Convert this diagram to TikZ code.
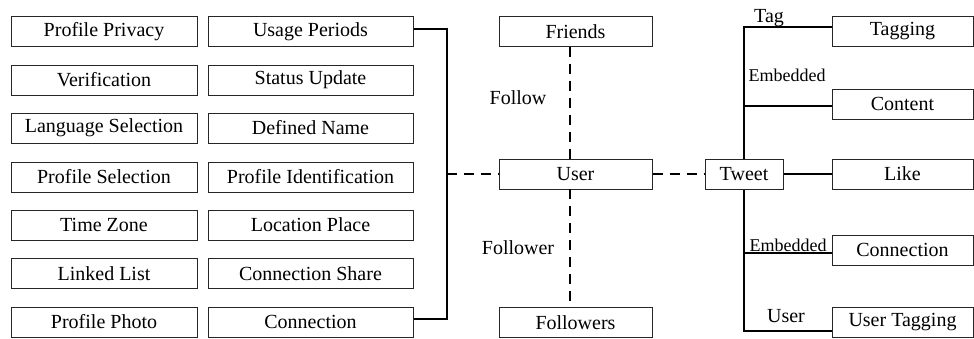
\documentclass[tikz,border=0pt]{standalone}
\usepackage{fontspec}
\setmainfont{Liberation Serif}
\begin{document}
\begin{tikzpicture}[x=1pt,y=-1pt,
  box/.style={draw=black!85, line width=1pt, minimum height=30pt, inner sep=0pt, font=\fontsize{20}{24}\selectfont},
  cA/.style={box, minimum width=186pt},
  cB/.style={box, minimum width=205pt},
  cM/.style={box, minimum width=153pt},
  cR/.style={box, minimum width=141pt},
  lbl/.style={inner sep=0pt, font=\fontsize{20}{24}\selectfont},
  slbl/.style={inner sep=0pt, font=\fontsize{18}{22}\selectfont},
  conn/.style={line width=1.2pt},
  dconn/.style={line width=1.2pt, dash pattern=on 10pt off 7pt}
]
\useasboundingbox (0,0) rectangle (974,338);
% column A
\node[cA] (a1) at (104,31.5) {Profile Privacy};
\node[cA] (a2) at (104,80) {Verification};
\node[cA] (a3) at (104,128) {Language Selection};
\node[cA] (a4) at (104,177) {Profile Selection};
\node[cA] (a5) at (104,225) {Time Zone};
\node[cA] (a6) at (104,273.5) {Linked List};
\node[cA] (a7) at (104,322) {Profile Photo};
% column B
\node[cB] (b1) at (310.5,31.5) {Usage Periods};
\node[cB] (b2) at (310.5,80) {Status Update};
\node[cB] (b3) at (310.5,128) {Defined Name};
\node[cB] (b4) at (310.5,177) {Profile Identification};
\node[cB] (b5) at (310.5,225) {Location Place};
\node[cB] (b6) at (310.5,273.5) {Connection Share};
\node[cB] (b7) at (310.5,322) {Connection};
% middle
\node[cM] (fr) at (575.5,31.5) {Friends};
\node[cM] (us) at (575.5,174) {User};
\node[cM] (fo) at (575.5,322.5) {Followers};
% tweet
\node[box, minimum width=78pt] (tw) at (744,174) {Tweet};
% right
\node[cR] (tg) at (902.5,31.5) {Tagging};
\node[cR] (ct) at (902.5,104) {Content};
\node[cR] (lk) at (902.5,174) {Like};
\node[cR] (cn) at (902.5,250) {Connection};
\node[cR] (ut) at (902.5,322.5) {User Tagging};
% bracket
\coordinate (brt) at (447,29);
\coordinate (brb) at (447,319);
\coordinate (brm) at (447,174);
\draw[conn] (b1.east |- brt) -- (brt) -- (brb) -- (b7.east |- brb);
\draw[dconn] (brm) -- (us.west);
\draw[dconn] (us.east) -- (tw.west);
% vertical dashed
\coordinate (vt) at (570,46.5);
\draw[dconn] (vt) -- (vt |- us.north);
\coordinate (vb) at (570,189);
\draw[dconn] (vb) -- (vb |- fo.north);
\node[lbl] (lf) at (518,98) {Follow};
\node[lbl] (lfr) at (518,248) {Follower};
% tweet tree
\coordinate (ttop) at (744,27);
\coordinate (tbot) at (744,331);
\coordinate (tcon) at (744,106);
\coordinate (tcn) at (744,253);
\draw[conn] (tw.north) -- (ttop) -- (ttop -| tg.west);
\draw[conn] (tw.south) -- (tbot) -- (tbot -| ut.west);
\draw[conn] (tcon) -- (tcon -| ct.west);
\draw[conn] (tcn) -- (tcn -| cn.west);
\draw[conn] (tw.east) -- (lk.west);
\node[lbl, anchor=base] (ltag) at (769,22) {Tag};
\node[slbl, anchor=base] (lemb1) at (787,81) {Embedded};
\node[slbl, anchor=base] (lemb2) at (788,251) {Embedded};
\node[lbl, anchor=base] (luser) at (786,322) {User};
\end{tikzpicture}
\end{document}
